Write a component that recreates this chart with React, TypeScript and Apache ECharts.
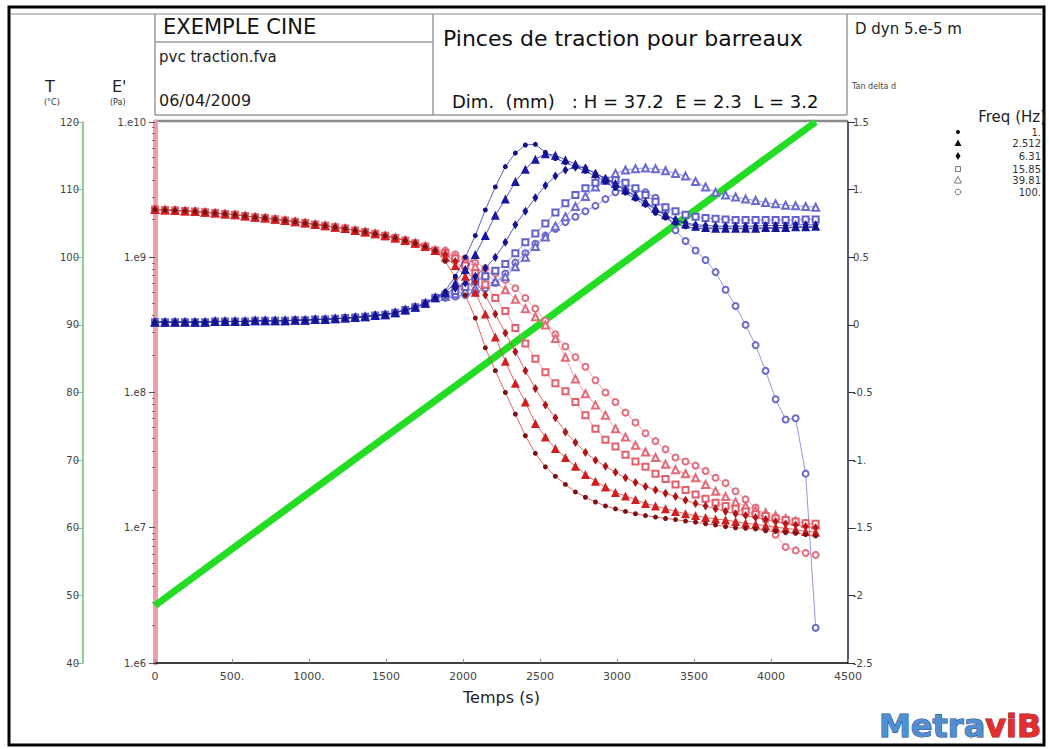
import React, { useEffect, useRef } from "react";
import * as echarts from "echarts";

// ---- Data ----
const TIME = [0,65,130,195,260,325,390,455,520,585,650,715,780,845,910,975,1040,1105,1170,1235,1300,1365,1430,1495,1560,1625,1690,1755,1820,1885,1950,2015,2080,2145,2210,2275,2340,2405,2470,2535,2600,2665,2730,2795,2860,2925,2990,3055,3120,3185,3250,3315,3380,3445,3510,3575,3640,3705,3770,3835,3900,3965,4030,4095,4160,4225,4290];

const FREQ_LABELS = ["1.", "2.512", "6.31", "15.85", "39.81", "100."];
const X_TICK_LABELS = ["0", "500.", "1000.", "1500", "2000", "2500", "3000", "3500", "4000", "4500"];
const E_TICK_LABELS = ["1.e6", "1.e7", "1.e8", "1.e9", "1.e10"];
const TAN_TICK_LABELS = ["-2.5", "-2", "-1.5", "-1.", "-0.5", "0", "0.5", "1.", "1.5"];

// Temperature ramp (°C)
const TEMP_POINTS = [[0, 48.5], [1000, 65.2], [2000, 81.8], [3000, 98.5], [4000, 115.2], [4290, 120]];

// E' (Pa) glassy part common to all frequencies (t = 0 .. 1820 s)
const E_GLASSY = [2.25e9,2.24e9,2.22e9,2.2e9,2.18e9,2.15e9,2.12e9,2.09e9,2.06e9,2.02e9,1.98e9,1.95e9,1.91e9,1.87e9,1.83e9,1.79e9,1.75e9,1.71e9,1.67e9,1.63e9,1.58e9,1.54e9,1.49e9,1.44e9,1.39e9,1.33e9,1.27e9,1.2e9,1.12e9];
// E' tails (t = 1885 .. 4290 s)
const E_TAIL_1 = [9.33e8,7.08e8,5.25e8,3.55e8,2.14e8,1.45e8,1.0e8,6.92e7,4.79e7,3.55e7,2.82e7,2.4e7,2.09e7,1.84e7,1.68e7,1.55e7,1.45e7,1.38e7,1.32e7,1.27e7,1.23e7,1.2e7,1.17e7,1.15e7,1.12e7,1.1e7,1.07e7,1.05e7,1.02e7,1.0e7,9.9e6,9.8e6,9.5e6,9.4e6,9.2e6,9.1e6,8.9e6,8.7e6];
const E_TAIL_2 = [1.0e9,8.7e8,7.24e8,5.5e8,3.8e8,2.57e8,1.7e8,1.17e8,8.5e7,5.9e7,4.68e7,3.85e7,3.31e7,2.85e7,2.48e7,2.21e7,2.0e7,1.82e7,1.72e7,1.62e7,1.51e7,1.45e7,1.38e7,1.32e7,1.27e7,1.23e7,1.19e7,1.16e7,1.14e7,1.11e7,1.08e7,1.06e7,1.035e7,1.01e7,9.9e6,9.7e6,9.4e6,9.3e6];
const E_TAIL_3 = [1.05e9,9.3e8,8.1e8,6.6e8,5.25e8,3.8e8,2.75e8,2.0e8,1.45e8,1.07e8,8.1e7,6.5e7,5.1e7,4.27e7,3.6e7,3.16e7,2.85e7,2.57e7,2.34e7,2.16e7,2.02e7,1.9e7,1.8e7,1.7e7,1.6e7,1.51e7,1.45e7,1.38e7,1.32e7,1.27e7,1.23e7,1.19e7,1.15e7,1.11e7,1.07e7,1.05e7,1.02e7,1.0e7];
const E_TAIL_4 = [1.07e9,9.8e8,8.7e8,7.6e8,6.3e8,5.0e8,4.0e8,3.0e8,2.3e8,1.78e8,1.41e8,1.17e8,1.02e8,8.5e7,6.8e7,5.4e7,4.47e7,3.98e7,3.47e7,3.09e7,2.82e7,2.51e7,2.29e7,2.09e7,1.9e7,1.76e7,1.64e7,1.53e7,1.45e7,1.38e7,1.32e7,1.26e7,1.22e7,1.17e7,1.14e7,1.11e7,1.08e7,1.07e7];
const E_TAIL_5 = [1.1e9,1.0e9,9.3e8,8.5e8,7.6e8,6.6e8,5.75e8,4.9e8,4.17e8,3.63e8,3.16e8,2.51e8,1.82e8,1.26e8,9.8e7,8.1e7,6.8e7,5.4e7,4.68e7,4.07e7,3.63e7,3.31e7,2.95e7,2.69e7,2.51e7,2.34e7,2.09e7,1.86e7,1.7e7,1.55e7,1.45e7,1.35e7,1.29e7,1.23e7,1.17e7,1.12e7,1.07e7,1.05e7];
const E_TAIL_6 = [1.12e9,1.05e9,9.8e8,9.1e8,8.3e8,7.6e8,6.8e8,5.9e8,5.0e8,4.17e8,3.39e8,2.69e8,2.19e8,1.82e8,1.55e8,1.23e8,1.0e8,8.5e7,7.1e7,6.0e7,5.0e7,4.37e7,3.8e7,3.31e7,3.09e7,2.88e7,2.63e7,2.34e7,2.14e7,1.86e7,1.62e7,1.41e7,1.15e7,8.9e6,7.2e6,6.8e6,6.5e6,6.3e6];

// Tan delta glassy part (t = 0 .. 1820 s)
const TAN_GLASSY = [0.02,0.02,0.02,0.02,0.02,0.02,0.025,0.025,0.025,0.025,0.03,0.03,0.03,0.03,0.035,0.035,0.04,0.04,0.045,0.05,0.055,0.06,0.07,0.075,0.09,0.11,0.13,0.16,0.2];
const TAN_TAIL_1 = [0.25,0.36,0.5,0.66,0.85,1.02,1.17,1.27,1.33,1.335,1.275,1.23,1.2,1.17,1.135,1.1,1.055,1.01,0.975,0.93,0.885,0.825,0.79,0.75,0.725,0.715,0.71,0.71,0.71,0.71,0.71,0.71,0.71,0.715,0.715,0.72,0.72,0.72];
const TAN_TAIL_2 = [0.24,0.31,0.41,0.52,0.66,0.81,0.93,1.06,1.15,1.225,1.265,1.255,1.22,1.19,1.155,1.12,1.085,1.045,1.0,0.955,0.91,0.86,0.815,0.775,0.745,0.73,0.72,0.715,0.715,0.715,0.715,0.715,0.72,0.72,0.72,0.725,0.725,0.73];
const TAN_TAIL_3 = [0.23,0.27,0.31,0.36,0.42,0.5,0.61,0.74,0.84,0.94,1.03,1.1,1.145,1.165,1.16,1.12,1.08,1.04,0.99,0.95,0.9,0.85,0.81,0.78,0.755,0.74,0.735,0.73,0.73,0.73,0.73,0.73,0.735,0.735,0.735,0.74,0.74,0.74];
const TAN_TAIL_4 = [0.22,0.25,0.28,0.32,0.36,0.4,0.45,0.53,0.61,0.675,0.75,0.83,0.9,0.96,1.01,1.05,1.065,1.07,1.05,1.01,0.96,0.91,0.87,0.84,0.815,0.8,0.79,0.785,0.78,0.775,0.775,0.775,0.775,0.775,0.775,0.775,0.78,0.78];
const TAN_TAIL_5 = [0.21,0.23,0.25,0.27,0.3,0.32,0.355,0.43,0.5,0.58,0.65,0.73,0.8,0.875,0.95,1.02,1.07,1.12,1.145,1.155,1.16,1.155,1.14,1.12,1.1,1.06,1.02,0.98,0.96,0.945,0.93,0.92,0.905,0.895,0.885,0.88,0.875,0.87];
const TAN_TAIL_6 = [0.2,0.21,0.22,0.24,0.27,0.31,0.38,0.46,0.53,0.6,0.66,0.71,0.76,0.8,0.84,0.88,0.93,0.98,1.0,1.0,0.98,0.94,0.84,0.7,0.62,0.55,0.48,0.39,0.26,0.14,0.0,-0.15,-0.34,-0.55,-0.7,-0.69,-1.1,-2.24];

const E_TAILS = [E_TAIL_1, E_TAIL_2, E_TAIL_3, E_TAIL_4, E_TAIL_5, E_TAIL_6];
const TAN_TAILS = [TAN_TAIL_1, TAN_TAIL_2, TAN_TAIL_3, TAN_TAIL_4, TAN_TAIL_5, TAN_TAIL_6];

// ---- Styles ----
const FONT = "DejaVu Sans, Verdana, sans-serif";
const SYMBOLS = ["circle", "triangle", "diamond", "emptyRect", "emptyTriangle", "emptyCircle"];
const SYMBOL_SIZES = [5, 9, [6, 9], 6, 7, 6];
const E_COLORS = ["#7a1212", "#d41e1e", "#b01616", "#e0606e", "#e46a78", "#e07080"];
const TAN_COLORS = ["#10108a", "#1818a0", "#141494", "#6262c8", "#6a6ad0", "#6a6acc"];

function buildSeries() {
  const series: any[] = [];
  series.push({
    type: "line",
    name: "T",
    yAxisIndex: 1,
    data: TEMP_POINTS,
    showSymbol: false,
    lineStyle: { color: "#22dd22", width: 7 },
    z: 1,
    silent: true,
  });
  for (let k = 0; k < 6; k++) {
    const vals = [...E_GLASSY, ...E_TAILS[k]];
    const empty = k >= 3;
    series.push({
      type: "line",
      name: "E' " + FREQ_LABELS[k],
      yAxisIndex: 0,
      data: TIME.map((t, i) => [t, vals[i]]),
      symbol: SYMBOLS[k],
      symbolSize: SYMBOL_SIZES[k],
      showAllSymbol: true,
      lineStyle: { color: empty ? "#ec8a94" : "#d84040", width: 0.8 },
      itemStyle: empty ? { color: E_COLORS[k], borderWidth: 1 } : { color: E_COLORS[k] },
      z: 3 + (5 - k),
      silent: true,
    });
  }
  for (let k = 0; k < 6; k++) {
    const vals = [...TAN_GLASSY, ...TAN_TAILS[k]];
    const empty = k >= 3;
    series.push({
      type: "line",
      name: "tan " + FREQ_LABELS[k],
      yAxisIndex: 2,
      data: TIME.map((t, i) => [t, vals[i]]),
      symbol: SYMBOLS[k],
      symbolSize: SYMBOL_SIZES[k],
      showAllSymbol: true,
      lineStyle: { color: empty ? "#7a7ad8" : "#3030a8", width: 0.8 },
      itemStyle: empty ? { color: TAN_COLORS[k], borderWidth: 1 } : { color: TAN_COLORS[k] },
      z: 3 + (5 - k),
      silent: true,
    });
  }
  return series;
}

function buildGraphics() {
  const grey = "#9a9a9a";
  const els: any[] = [];
  const line = (x1: number, y1: number, x2: number, y2: number, stroke = grey, lw = 1.5) =>
    els.push({ type: "line", silent: true, shape: { x1, y1, x2, y2 }, style: { stroke, lineWidth: lw } });
  const text = (x: number, y: number, t: string, size: number, extra: any = {}) =>
    els.push({
      type: "text",
      silent: true,
      x,
      y,
      style: { text: t, fontSize: size, fontFamily: FONT, fill: "#111", textVerticalAlign: "middle", ...extra },
    });

  // outer frame
  els.push({ type: "rect", silent: true, shape: { x: 9, y: 7, width: 1035, height: 738 }, style: { fill: "none", stroke: "#000", lineWidth: 3 } });
  // header boxes
  line(11, 14, 1043, 14, "#b0b0b0", 1.5);
  line(155, 14, 155, 115);
  line(155, 42, 433, 42);
  line(433, 14, 433, 115);
  line(847, 14, 847, 115);
  line(155, 115, 847, 115);
  line(155, 121, 848, 121, "#8a8a8a", 2.5);

  text(163, 27, "EXEMPLE CINE", 21);
  text(159, 57, "pvc traction.fva", 15, { fill: "#222" });
  text(159, 100, "06/04/2009", 16, { fill: "#222" });
  text(443, 38, "Pinces de traction pour barreaux", 22);
  text(452, 101, "Dim.  (mm)   : H = 37.2  E = 2.3  L = 3.2", 18);
  text(855, 29, "D dyn 5.e-5 m", 15, { fill: "#222" });
  text(852, 86, "Tan delta d", 8, { fill: "#444" });

  // axis names
  text(45, 86, "T", 16, { fill: "#222" });
  text(44, 102, "(°C)", 8, { fill: "#333" });
  text(112, 86, "E'", 16, { fill: "#222" });
  text(110, 102, "(Pa)", 8, { fill: "#333" });

  // legend
  text(1046, 117, "Freq (Hz)", 15, { align: "right", fill: "#222" });
  const ly = [132, 143, 156, 169, 180, 192];
  FREQ_LABELS.forEach((lab, i) => text(1041, ly[i], lab, 10, { align: "right", fill: "#333" }));
  const sx = 958;
  els.push({ type: "circle", silent: true, shape: { cx: sx, cy: ly[0], r: 2 }, style: { fill: "#111" } });
  els.push({ type: "polygon", silent: true, shape: { points: [[sx - 3.5, ly[1] + 3], [sx + 3.5, ly[1] + 3], [sx, ly[1] - 3.5]] }, style: { fill: "#111" } });
  els.push({ type: "polygon", silent: true, shape: { points: [[sx, ly[2] - 4], [sx + 2.5, ly[2]], [sx, ly[2] + 4], [sx - 2.5, ly[2]]] }, style: { fill: "#111" } });
  els.push({ type: "rect", silent: true, shape: { x: sx - 2.5, y: ly[3] - 2.5, width: 5, height: 5 }, style: { fill: "none", stroke: "#777", lineWidth: 1 } });
  els.push({ type: "polygon", silent: true, shape: { points: [[sx - 3.5, ly[4] + 3], [sx + 3.5, ly[4] + 3], [sx, ly[4] - 3.5]] }, style: { fill: "none", stroke: "#777", lineWidth: 1 } });
  els.push({ type: "circle", silent: true, shape: { cx: sx, cy: ly[5], r: 2.8 }, style: { fill: "none", stroke: "#777", lineWidth: 1 } });

  // logo
  els.push({
    type: "text",
    silent: true,
    x: 879,
    y: 726,
    style: {
      text: "{a|Metra}{b|viB}",
      textVerticalAlign: "middle",
      rich: {
        a: { fontSize: 32, fontWeight: "bold", fontFamily: "DejaVu Sans, sans-serif", fill: "#4f8fd2", stroke: "#1c3f7a", lineWidth: 1 },
        b: { fontSize: 32, fontWeight: "bold", fontFamily: "DejaVu Sans, sans-serif", fill: "#e23030", stroke: "#8a1010", lineWidth: 1 },
      },
    },
  });
  return els;
}

export default function App() {
  const ref = useRef<HTMLDivElement | null>(null);
  useEffect(() => {
    if (!ref.current) return;
    const chart = echarts.init(ref.current, undefined, { renderer: "svg" });
    const labelStyle = { fontSize: 10, color: "#444", fontFamily: FONT };
    chart.setOption({
      animation: false,
      backgroundColor: "#ffffff",
      grid: { left: 155, right: 201, top: 122, bottom: 86, containLabel: false },
      xAxis: {
        type: "value",
        min: 0,
        max: 4500,
        interval: 500,
        axisLine: { show: true, onZero: false, lineStyle: { color: "#000", width: 1.5 } },
        axisTick: { show: true, inside: true, length: 4, lineStyle: { color: "#888" } },
        axisLabel: { ...labelStyle, fontSize: 11, margin: 8, formatter: (v: number) => X_TICK_LABELS[Math.round(v / 500)] ?? "" },
        splitLine: { show: false },
        name: "Temps (s)",
        nameLocation: "middle",
        nameGap: 26,
        nameTextStyle: { fontSize: 16, color: "#222", fontFamily: FONT },
      },
      yAxis: [
        {
          type: "log",
          logBase: 10,
          min: 1e6,
          max: 1e10,
          position: "left",
          axisLine: { show: true, onZero: false, lineStyle: { color: "#e8a0aa", width: 5 } },
          axisTick: { show: true, length: 6, lineStyle: { color: "#555" } },
          minorTick: { show: true, splitNumber: 10, length: 3, lineStyle: { color: "#b06068" } },
          axisLabel: { ...labelStyle, margin: 9, formatter: (v: number) => E_TICK_LABELS[Math.round(Math.log10(v)) - 6] ?? "" },
          splitLine: { show: false },
          minorSplitLine: { show: false },
        },
        {
          type: "value",
          min: 40,
          max: 120,
          interval: 10,
          position: "left",
          offset: 72,
          axisLine: { show: true, onZero: false, lineStyle: { color: "#5cc85c", width: 1.5 } },
          axisTick: { show: true, length: 8, lineStyle: { color: "#aaa" } },
          axisLabel: { ...labelStyle, margin: 4 },
          splitLine: { show: false },
        },
        {
          type: "value",
          min: -2.5,
          max: 1.5,
          interval: 0.5,
          position: "right",
          axisLine: { show: true, onZero: false, lineStyle: { color: "#1a2050", width: 1.5 } },
          axisTick: { show: true, length: 7, lineStyle: { color: "#333" } },
          axisLabel: { ...labelStyle, margin: 5, formatter: (v: number) => TAN_TICK_LABELS[Math.round((v + 2.5) / 0.5)] ?? "" },
          splitLine: { show: false },
        },
      ],
      series: buildSeries(),
      graphic: { elements: buildGraphics() },
    });
    return () => chart.dispose();
  }, []);
  return <div ref={ref} style={{ position: "absolute", left: 0, top: 0, width: 1049, height: 749, background: "#fff" }} />;
}
